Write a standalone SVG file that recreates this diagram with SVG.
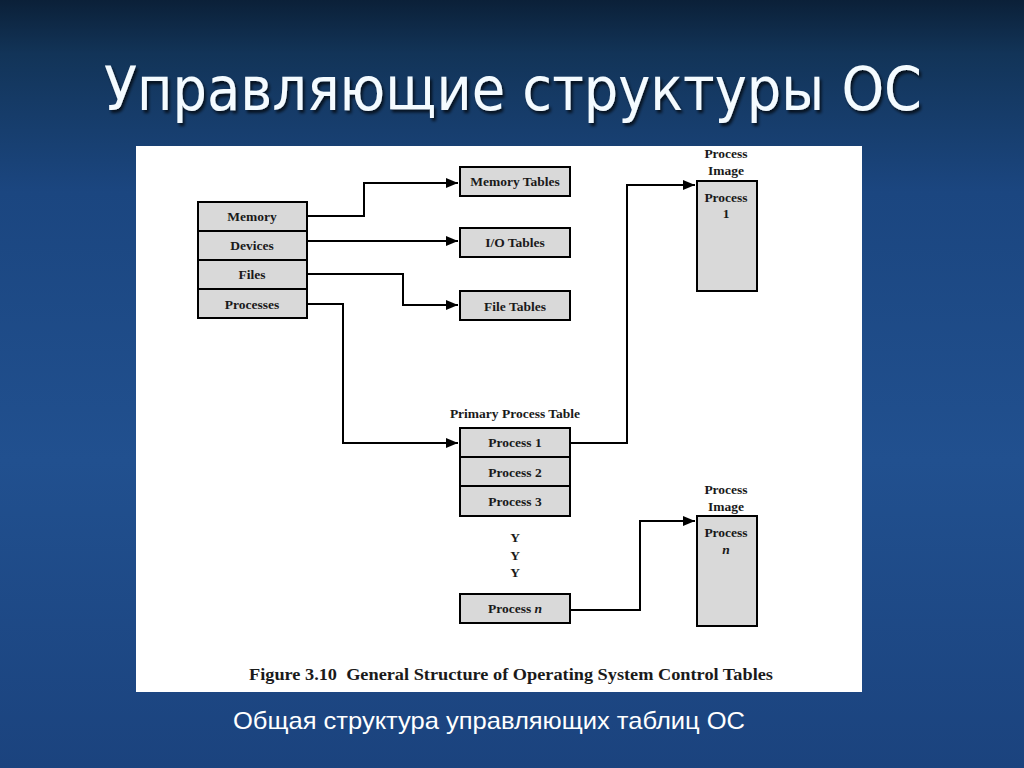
<svg xmlns="http://www.w3.org/2000/svg" width="1024" height="768" viewBox="0 0 1024 768">
<defs>
<linearGradient id="bg" x1="0" y1="0" x2="0" y2="1">
<stop offset="0" stop-color="#0b2038"/>
<stop offset="0.07" stop-color="#123458"/>
<stop offset="0.25" stop-color="#1b4680"/>
<stop offset="0.6" stop-color="#21508f"/>
<stop offset="1" stop-color="#1b437e"/>
</linearGradient>
<marker id="ah" markerWidth="12" markerHeight="10" refX="12" refY="5" orient="auto" markerUnits="userSpaceOnUse">
<path d="M0,0 L12,5 L0,10 Z" fill="#000"/>
</marker>
<filter id="sh" x="-5%" y="-20%" width="110%" height="140%">
<feDropShadow dx="2" dy="3" stdDeviation="1.5" flood-color="#000" flood-opacity="0.7"/>
</filter>
</defs>
<style>
.box{fill:#d9d9d9;stroke:#000;stroke-width:2}
.t{font-family:"Liberation Serif","Times New Roman",serif;font-weight:bold;font-size:13.5px;fill:#1a1a1a;text-anchor:middle}
.c{fill:none;stroke:#000;stroke-width:2}
</style>
<rect width="1024" height="768" fill="url(#bg)"/>
<text x="513" y="110" font-family="DejaVu Sans, Verdana, sans-serif" font-size="60" fill="#f4fbff" text-anchor="middle" textLength="818" lengthAdjust="spacingAndGlyphs" filter="url(#sh)">Управляющие структуры ОС</text>
<rect x="136" y="146" width="726" height="546" fill="#fff"/>
<g id="left-table">
<rect class="box" x="198" y="202" width="109" height="29"/>
<text class="t" x="252" y="221">Memory</text>
<rect class="box" x="198" y="231" width="109" height="29"/>
<text class="t" x="252" y="250">Devices</text>
<rect class="box" x="198" y="260" width="109" height="29"/>
<text class="t" x="252" y="279">Files</text>
<rect class="box" x="198" y="289" width="109" height="29"/>
<text class="t" x="252" y="309">Processes</text>
</g>
<g id="memory-tables"><rect class="box" x="460" y="167" width="110" height="29"/><text class="t" x="515" y="186">Memory Tables</text></g>
<g id="io-tables"><rect class="box" x="460" y="228" width="110" height="29"/><text class="t" x="515" y="247">I/O Tables</text></g>
<g id="file-tables"><rect class="box" x="460" y="291" width="110" height="29"/><text class="t" x="515" y="311">File Tables</text></g>
<g id="primary-process-table">
<text class="t" x="515" y="418">Primary Process Table</text>
<rect class="box" x="460" y="428" width="110" height="29"/>
<text class="t" x="515" y="447">Process 1</text>
<rect class="box" x="460" y="457" width="110" height="29"/>
<text class="t" x="515" y="477">Process 2</text>
<rect class="box" x="460" y="486" width="110" height="30"/>
<text class="t" x="515" y="506">Process 3</text>
<text class="t" x="515" y="542">Y</text>
<text class="t" x="515" y="560">Y</text>
<text class="t" x="515" y="577">Y</text>
</g>
<g id="process-n"><rect class="box" x="460" y="594" width="110" height="29"/><text class="t" x="515" y="613">Process <tspan font-style="italic">n</tspan></text></g>
<g id="process-image-1">
<text class="t" x="726" y="158">Process</text>
<text class="t" x="726" y="175">Image</text>
<rect class="box" x="697" y="181" width="60" height="110"/>
<text class="t" x="726" y="202">Process</text>
<text class="t" x="726" y="218">1</text>
</g>
<g id="process-image-n">
<text class="t" x="726" y="494">Process</text>
<text class="t" x="726" y="511">Image</text>
<rect class="box" x="697" y="516" width="60" height="110"/>
<text class="t" x="726" y="537">Process</text>
<text class="t" x="726" y="554" font-style="italic">n</text>
</g>
<g id="connectors">
<path class="c" d="M307,216 H364 V183 H458" marker-end="url(#ah)"/>
<path class="c" d="M307,241 H458" marker-end="url(#ah)"/>
<path class="c" d="M307,274 H403 V305 H458" marker-end="url(#ah)"/>
<path class="c" d="M307,304 H343 V443 H458" marker-end="url(#ah)"/>
<path class="c" d="M570,443 H627 V185 H695" marker-end="url(#ah)"/>
<path class="c" d="M570,610 H640 V521 H695" marker-end="url(#ah)"/>
</g>
<text x="249" y="680" font-family="Liberation Serif, serif" font-weight="bold" font-size="17" fill="#1a1a1a" textLength="524" lengthAdjust="spacingAndGlyphs" xml:space="preserve">Figure 3.10  General Structure of Operating System Control Tables</text>
<text x="233" y="729" font-family="Liberation Sans, Arial, sans-serif" font-size="24" fill="#fff" textLength="512" lengthAdjust="spacingAndGlyphs">Общая структура управляющих таблиц ОС</text>
</svg>
